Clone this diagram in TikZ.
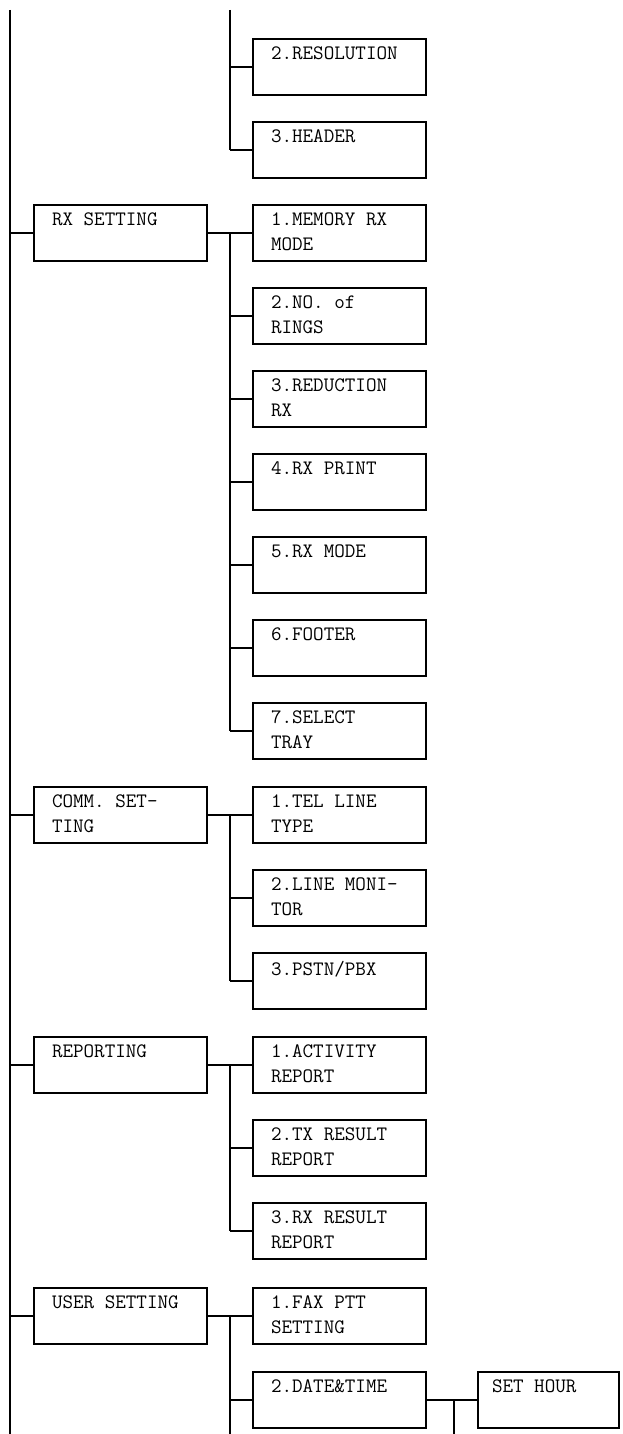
\documentclass[tikz,border=0pt]{standalone}
\usetikzlibrary{positioning}
\newcommand{\boxtxt}[1]{\parbox[b][40pt][t]{137pt}{\raggedright #1}}
\begin{document}
\begin{tikzpicture}[x=1pt,y=-1pt,
    menu/.style={draw, line width=1.3pt, anchor=north west, inner xsep=18pt, inner ysep=8pt,
                 font=\fontsize{20.5}{25}\ttfamily, outer sep=0pt},
    link/.style={line width=1.3pt},
]
\useasboundingbox (0,0) rectangle (623,1434);

% Top coordinates
\coordinate (top) at (10,10);
\coordinate (bot) at (10,1434);
\coordinate (ttop) at (230,10);

% First level
\node[menu] (rx)   at (34,205)  {\boxtxt{RX SETTING}};
\node[menu] (comm) at (34,787)  {\boxtxt{COMM. SET-\\TING}};
\node[menu] (rep)  at (34,1037) {\boxtxt{REPORTING}};
\node[menu] (user) at (34,1288) {\boxtxt{USER SETTING}};

% Second level
\node[menu] (res)  at (253,39)   {\boxtxt{2.RESOLUTION}};
\node[menu] (hdr)  at (253,122)  {\boxtxt{3.HEADER}};
\node[menu] (mem)  at (253,205)  {\boxtxt{1.MEMORY RX\\MODE}};
\node[menu] (ring) at (253,288)  {\boxtxt{2.NO. of\\RINGS}};
\node[menu] (red)  at (253,371)  {\boxtxt{3.REDUCTION\\RX}};
\node[menu] (prt)  at (253,454)  {\boxtxt{4.RX PRINT}};
\node[menu] (mode) at (253,537)  {\boxtxt{5.RX MODE}};
\node[menu] (foot) at (253,620)  {\boxtxt{6.FOOTER}};
\node[menu] (tray) at (253,703)  {\boxtxt{7.SELECT\\TRAY}};
\node[menu] (tel)  at (253,787)  {\boxtxt{1.TEL LINE\\TYPE}};
\node[menu] (mon)  at (253,870)  {\boxtxt{2.LINE MONI-\\TOR}};
\node[menu] (pstn) at (253,953)  {\boxtxt{3.PSTN/PBX}};
\node[menu] (act)  at (253,1037) {\boxtxt{1.ACTIVITY\\REPORT}};
\node[menu] (txr)  at (253,1120) {\boxtxt{2.TX RESULT\\REPORT}};
\node[menu] (rxr)  at (253,1203) {\boxtxt{3.RX RESULT\\REPORT}};
\node[menu] (ptt)  at (253,1288) {\boxtxt{1.FAX PTT\\SETTING}};
\node[menu] (date) at (253,1372) {\boxtxt{2.DATE\&TIME}};

% Third level
\node[menu, inner xsep=14pt] (hour) at (478,1372) {\parbox[b][40pt][t]{113pt}{SET HOUR}};

% Trunk
\draw[link] (top) -- (bot);
\foreach \n in {rx,comm,rep,user} \draw[link] (\n.west) -- (\n.west -| top);

% Branches
\draw[link] (ttop) -- (ttop |- hdr.west);
\foreach \n in {res,hdr} \draw[link] (\n.west) -- (\n.west -| ttop);
\foreach \p/\a/\b in {rx/mem/tray, comm/tel/pstn, rep/act/rxr, user/ptt/date} {
  \draw[link] (\p.east) -- (\a.west);
  \draw[link] (\a.west -| ttop) -- (\b.west -| ttop);
  \draw[link] (\b.west) -- (\b.west -| ttop);
}
\foreach \n in {ring,red,prt,mode,foot,mon,txr} \draw[link] (\n.west) -- (\n.west -| ttop);
\draw[link] (date.west -| ttop) -- (ttop |- bot);

\coordinate (sub) at (454,1434);
\draw[link] (date.east) -- (hour.west);
\draw[link] (sub |- hour.west) -- (sub);
\end{tikzpicture}
\end{document}
